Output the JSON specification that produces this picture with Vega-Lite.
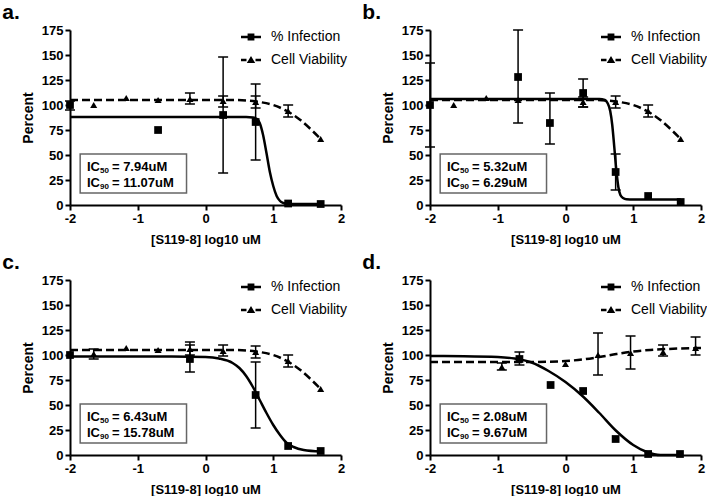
{
  "$schema": "https://vega.github.io/schema/vega-lite/v6.json",
  "background": "white",
  "padding": {"left": 2, "top": 2, "right": 0, "bottom": 0},
  "config": {
    "view": {"stroke": null},
    "font": "Liberation Sans",
    "axis": {"grid": false, "domainColor": "black", "domainWidth": 2, "tickColor": "black", "tickWidth": 2, "tickSize": 5, "labelFont": "Liberation Sans", "labelFontWeight": "bold", "labelFontSize": 13, "labelColor": "black", "labelPadding": 2, "labelOverlap": false, "labelFlush": false, "titleFont": "Liberation Sans", "titleFontWeight": "bold", "titleColor": "black"},
    "axisX": {"titleFontSize": 13, "titlePadding": 8},
    "axisY": {"titleFontSize": 14, "titlePadding": 6},
    "title": {"font": "Liberation Sans", "fontSize": 21, "fontWeight": "bold", "color": "black", "anchor": "start", "offset": 1, "dx": -19},
    "legend": {"labelFont": "Liberation Sans", "labelFontSize": 14, "labelColor": "black"}
  },
  "datasets": {
    "pts": [
      {"p":"a","s":"% Infection","x":-2,"y":100,"lo":95,"hi":104},
      {"p":"a","s":"% Infection","x":-0.7,"y":75},
      {"p":"a","s":"% Infection","x":0.26,"y":90,"lo":32,"hi":148},
      {"p":"a","s":"% Infection","x":0.74,"y":83,"lo":45,"hi":121},
      {"p":"a","s":"% Infection","x":1.22,"y":1.5},
      {"p":"a","s":"% Infection","x":1.7,"y":1},
      {"p":"a","s":"Cell Viability","x":-1.65,"y":100},
      {"p":"a","s":"Cell Viability","x":-1.17,"y":107},
      {"p":"a","s":"Cell Viability","x":-0.7,"y":105},
      {"p":"a","s":"Cell Viability","x":-0.23,"y":106,"lo":101,"hi":112},
      {"p":"a","s":"Cell Viability","x":0.26,"y":104,"lo":98,"hi":109},
      {"p":"a","s":"Cell Viability","x":0.74,"y":103,"lo":97,"hi":109},
      {"p":"a","s":"Cell Viability","x":1.22,"y":94,"lo":88,"hi":100},
      {"p":"a","s":"Cell Viability","x":1.7,"y":66},

      {"p":"b","s":"% Infection","x":-2,"y":100,"lo":58,"hi":142},
      {"p":"b","s":"% Infection","x":-0.7,"y":128,"lo":82,"hi":175},
      {"p":"b","s":"% Infection","x":-0.23,"y":82,"lo":61,"hi":112},
      {"p":"b","s":"% Infection","x":0.26,"y":112,"lo":98,"hi":126},
      {"p":"b","s":"% Infection","x":0.74,"y":33,"lo":15,"hi":51},
      {"p":"b","s":"% Infection","x":1.22,"y":9},
      {"p":"b","s":"% Infection","x":1.7,"y":3},
      {"p":"b","s":"Cell Viability","x":-1.65,"y":100},
      {"p":"b","s":"Cell Viability","x":-1.17,"y":107},
      {"p":"b","s":"Cell Viability","x":-0.7,"y":105},
      {"p":"b","s":"Cell Viability","x":0.26,"y":103,"lo":98,"hi":108},
      {"p":"b","s":"Cell Viability","x":0.74,"y":103,"lo":97,"hi":109},
      {"p":"b","s":"Cell Viability","x":1.22,"y":94,"lo":88,"hi":100},
      {"p":"b","s":"Cell Viability","x":1.7,"y":66},

      {"p":"c","s":"% Infection","x":-2,"y":100},
      {"p":"c","s":"% Infection","x":-0.23,"y":96,"lo":83,"hi":110},
      {"p":"c","s":"% Infection","x":0.74,"y":60,"lo":27,"hi":93},
      {"p":"c","s":"% Infection","x":1.22,"y":9},
      {"p":"c","s":"% Infection","x":1.7,"y":4},
      {"p":"c","s":"Cell Viability","x":-1.65,"y":101,"lo":96,"hi":106},
      {"p":"c","s":"Cell Viability","x":-1.17,"y":107},
      {"p":"c","s":"Cell Viability","x":-0.7,"y":105},
      {"p":"c","s":"Cell Viability","x":-0.23,"y":106,"lo":100,"hi":113},
      {"p":"c","s":"Cell Viability","x":0.26,"y":104,"lo":99,"hi":110},
      {"p":"c","s":"Cell Viability","x":0.74,"y":103,"lo":97,"hi":109},
      {"p":"c","s":"Cell Viability","x":1.22,"y":94,"lo":88,"hi":100},
      {"p":"c","s":"Cell Viability","x":1.7,"y":66},

      {"p":"d","s":"% Infection","x":-0.68,"y":96,"lo":90,"hi":103},
      {"p":"d","s":"% Infection","x":-0.22,"y":70},
      {"p":"d","s":"% Infection","x":0.26,"y":64},
      {"p":"d","s":"% Infection","x":0.74,"y":16},
      {"p":"d","s":"% Infection","x":1.22,"y":1},
      {"p":"d","s":"% Infection","x":1.69,"y":1},
      {"p":"d","s":"Cell Viability","x":-0.94,"y":88,"lo":85,"hi":92},
      {"p":"d","s":"Cell Viability","x":0.0,"y":91},
      {"p":"d","s":"Cell Viability","x":0.48,"y":100,"lo":80,"hi":122},
      {"p":"d","s":"Cell Viability","x":0.96,"y":102,"lo":86,"hi":119},
      {"p":"d","s":"Cell Viability","x":1.44,"y":103,"lo":99,"hi":110},
      {"p":"d","s":"Cell Viability","x":1.92,"y":107,"lo":100,"hi":118}
    ],
    "fit": [
      {"p":"a","s":"% Infection","x":-2,"y":88},{"p":"a","s":"% Infection","x":0.6,"y":88},{"p":"a","s":"% Infection","x":0.7,"y":87.5},{"p":"a","s":"% Infection","x":0.76,"y":86},{"p":"a","s":"% Infection","x":0.8,"y":82},{"p":"a","s":"% Infection","x":0.85,"y":70},{"p":"a","s":"% Infection","x":0.9,"y":52},{"p":"a","s":"% Infection","x":0.95,"y":33},{"p":"a","s":"% Infection","x":1.0,"y":19},{"p":"a","s":"% Infection","x":1.05,"y":9},{"p":"a","s":"% Infection","x":1.1,"y":4},{"p":"a","s":"% Infection","x":1.15,"y":2},{"p":"a","s":"% Infection","x":1.22,"y":1},{"p":"a","s":"% Infection","x":1.7,"y":1},
      {"p":"a","s":"Cell Viability","x":-2,"y":105},{"p":"a","s":"Cell Viability","x":0.4,"y":105},{"p":"a","s":"Cell Viability","x":0.6,"y":104.5},{"p":"a","s":"Cell Viability","x":0.8,"y":103},{"p":"a","s":"Cell Viability","x":1.0,"y":100},{"p":"a","s":"Cell Viability","x":1.2,"y":94},{"p":"a","s":"Cell Viability","x":1.4,"y":85},{"p":"a","s":"Cell Viability","x":1.55,"y":76},{"p":"a","s":"Cell Viability","x":1.7,"y":66},

      {"p":"b","s":"% Infection","x":-2,"y":106},{"p":"b","s":"% Infection","x":0.5,"y":106},{"p":"b","s":"% Infection","x":0.58,"y":105},{"p":"b","s":"% Infection","x":0.62,"y":102},{"p":"b","s":"% Infection","x":0.66,"y":94},{"p":"b","s":"% Infection","x":0.69,"y":80},{"p":"b","s":"% Infection","x":0.72,"y":58},{"p":"b","s":"% Infection","x":0.75,"y":35},{"p":"b","s":"% Infection","x":0.78,"y":18},{"p":"b","s":"% Infection","x":0.81,"y":10},{"p":"b","s":"% Infection","x":0.85,"y":7},{"p":"b","s":"% Infection","x":0.9,"y":5.8},{"p":"b","s":"% Infection","x":1.0,"y":5.5},{"p":"b","s":"% Infection","x":1.7,"y":5.5},
      {"p":"b","s":"Cell Viability","x":-2,"y":105},{"p":"b","s":"Cell Viability","x":0.4,"y":105},{"p":"b","s":"Cell Viability","x":0.6,"y":104.5},{"p":"b","s":"Cell Viability","x":0.8,"y":103},{"p":"b","s":"Cell Viability","x":1.0,"y":100},{"p":"b","s":"Cell Viability","x":1.2,"y":94},{"p":"b","s":"Cell Viability","x":1.4,"y":85},{"p":"b","s":"Cell Viability","x":1.55,"y":76},{"p":"b","s":"Cell Viability","x":1.7,"y":66},

      {"p":"c","s":"% Infection","x":-2,"y":98.5},{"p":"c","s":"% Infection","x":-0.5,"y":98.5},{"p":"c","s":"% Infection","x":0,"y":98},{"p":"c","s":"% Infection","x":0.2,"y":96.5},{"p":"c","s":"% Infection","x":0.4,"y":92},{"p":"c","s":"% Infection","x":0.5,"y":87},{"p":"c","s":"% Infection","x":0.6,"y":79},{"p":"c","s":"% Infection","x":0.7,"y":68},{"p":"c","s":"% Infection","x":0.8,"y":55},{"p":"c","s":"% Infection","x":0.9,"y":42},{"p":"c","s":"% Infection","x":1.0,"y":30},{"p":"c","s":"% Infection","x":1.1,"y":20},{"p":"c","s":"% Infection","x":1.2,"y":12},{"p":"c","s":"% Infection","x":1.3,"y":8},{"p":"c","s":"% Infection","x":1.45,"y":5},{"p":"c","s":"% Infection","x":1.7,"y":3.5},
      {"p":"c","s":"Cell Viability","x":-2,"y":105},{"p":"c","s":"Cell Viability","x":0.4,"y":105},{"p":"c","s":"Cell Viability","x":0.6,"y":104.5},{"p":"c","s":"Cell Viability","x":0.8,"y":103},{"p":"c","s":"Cell Viability","x":1.0,"y":100},{"p":"c","s":"Cell Viability","x":1.2,"y":94},{"p":"c","s":"Cell Viability","x":1.4,"y":85},{"p":"c","s":"Cell Viability","x":1.55,"y":76},{"p":"c","s":"Cell Viability","x":1.7,"y":66},

      {"p":"d","s":"% Infection","x":-2,"y":99},{"p":"d","s":"% Infection","x":-1.5,"y":98.8},{"p":"d","s":"% Infection","x":-1,"y":98},{"p":"d","s":"% Infection","x":-0.75,"y":96.5},{"p":"d","s":"% Infection","x":-0.5,"y":92.5},{"p":"d","s":"% Infection","x":-0.25,"y":84},{"p":"d","s":"% Infection","x":0,"y":73},{"p":"d","s":"% Infection","x":0.25,"y":59},{"p":"d","s":"% Infection","x":0.5,"y":42},{"p":"d","s":"% Infection","x":0.75,"y":24},{"p":"d","s":"% Infection","x":1.0,"y":10},{"p":"d","s":"% Infection","x":1.2,"y":3},{"p":"d","s":"% Infection","x":1.4,"y":0},{"p":"d","s":"% Infection","x":1.7,"y":0},
      {"p":"d","s":"Cell Viability","x":-2,"y":93},{"p":"d","s":"Cell Viability","x":-1,"y":93},{"p":"d","s":"Cell Viability","x":-0.5,"y":93},{"p":"d","s":"Cell Viability","x":0,"y":94},{"p":"d","s":"Cell Viability","x":0.25,"y":95.5},{"p":"d","s":"Cell Viability","x":0.5,"y":98},{"p":"d","s":"Cell Viability","x":0.75,"y":101},{"p":"d","s":"Cell Viability","x":1,"y":103.5},{"p":"d","s":"Cell Viability","x":1.25,"y":105},{"p":"d","s":"Cell Viability","x":1.5,"y":106},{"p":"d","s":"Cell Viability","x":2,"y":107}
    ],
    "ic": [
      {"p":"a","v":"= 7.94uM\n= 11.07uM"},
      {"p":"b","v":"= 5.32uM\n= 6.29uM"},
      {"p":"c","v":"= 6.43uM\n= 15.78uM"},
      {"p":"d","v":"= 2.08uM\n= 9.67uM"}
    ]
  },
  "columns": 2,
  "spacing": {"row": 6, "column": 15},
  "resolve": {"scale": {"shape": "independent"}, "legend": {"shape": "independent"}},
  "concat": [
    {
      "title": {"text": "a."},
      "width": 271, "height": 175,
      "layer": [
        {"data": {"name": "fit"}, "transform": [{"filter": "datum.p === 'a' && datum.s === '% Infection'"}], "mark": {"type": "line", "interpolate": "monotone", "color": "black", "strokeWidth": 2.5},
         "encoding": {"x": {"field": "x", "type": "quantitative", "scale": {"domain": [-2, 2], "nice": false}, "axis": {"tickCount": 8, "labelExpr": "datum.value % 1 === 0 ? ('' + datum.value) : ''", "tickOpacity": {"condition": {"test": "datum.value % 1 === 0", "value": 1}, "value": 0}, "title": "[S119-8] log10 uM"}}, "y": {"field": "y", "type": "quantitative", "scale": {"domain": [0, 175], "nice": false}, "axis": {"tickCount": 35, "labelExpr": "datum.value % 25 === 0 ? datum.label : ''", "tickOpacity": {"condition": {"test": "datum.value % 25 === 0", "value": 1}, "value": 0}, "title": "Percent"}}}},
        {"data": {"name": "fit"}, "transform": [{"filter": "datum.p === 'a' && datum.s === 'Cell Viability'"}], "mark": {"type": "line", "interpolate": "monotone", "color": "black", "strokeWidth": 2.5, "strokeDash": [8, 4]},
         "encoding": {"x": {"field": "x", "type": "quantitative"}, "y": {"field": "y", "type": "quantitative"}}},
        {"data": {"name": "ic"}, "transform": [{"filter": "datum.p === 'a'"}], "mark": {"type": "rect", "fill": "white", "stroke": "#666666", "strokeWidth": 1.5},
         "encoding": {"x": {"datum": -1.85, "type": "quantitative"}, "x2": {"datum": -0.28}, "y": {"datum": 12, "type": "quantitative"}, "y2": {"datum": 51}}},
        {"data": {"name": "ic"}, "transform": [{"filter": "datum.p === 'a'"}], "mark": {"type": "text", "align": "left", "baseline": "middle", "lineHeight": 16, "fontWeight": "bold", "fontSize": 13, "color": "black"},
         "encoding": {"x": {"datum": -1.75, "type": "quantitative"}, "y": {"datum": 38, "type": "quantitative"}, "text": {"value": ["IC", "IC"]}}},
        {"data": {"name": "ic"}, "transform": [{"filter": "datum.p === 'a'"}], "mark": {"type": "text", "align": "left", "baseline": "middle", "lineHeight": 16, "fontWeight": "bold", "fontSize": 8, "color": "black", "dx": 13, "dy": 4},
         "encoding": {"x": {"datum": -1.75, "type": "quantitative"}, "y": {"datum": 38, "type": "quantitative"}, "text": {"value": ["50", "90"]}}},
        {"data": {"name": "ic"}, "transform": [{"filter": "datum.p === 'a'"}], "mark": {"type": "text", "align": "left", "baseline": "middle", "lineBreak": "\n", "lineHeight": 16, "fontWeight": "bold", "fontSize": 13, "color": "black", "dx": 25},
         "encoding": {"x": {"datum": -1.75, "type": "quantitative"}, "y": {"datum": 38, "type": "quantitative"}, "text": {"field": "v"}}},
        {"data": {"name": "pts"}, "transform": [{"filter": "datum.p === 'a' && isValid(datum.lo)"}], "mark": {"type": "rule", "color": "black", "strokeWidth": 1.5},
         "encoding": {"x": {"field": "x", "type": "quantitative"}, "y": {"field": "lo", "type": "quantitative"}, "y2": {"field": "hi"}}},
        {"data": {"name": "pts"}, "transform": [{"filter": "datum.p === 'a' && isValid(datum.lo)"}, {"fold": ["lo", "hi"], "as": ["k", "v"]}], "mark": {"type": "tick", "orient": "horizontal", "color": "black", "thickness": 1.5, "size": 10, "opacity": 1},
         "encoding": {"x": {"field": "x", "type": "quantitative"}, "y": {"field": "v", "type": "quantitative"}}},
        {"data": {"name": "pts"}, "transform": [{"filter": "datum.p === 'a' && datum.s === '% Infection'"}], "mark": {"type": "point", "shape": "square", "filled": true, "color": "black", "opacity": 1, "size": 60},
         "encoding": {"x": {"field": "x", "type": "quantitative"}, "y": {"field": "y", "type": "quantitative"}}},
        {"data": {"name": "pts"}, "transform": [{"filter": "datum.p === 'a' && datum.s === 'Cell Viability'"}], "mark": {"type": "point", "shape": "triangle-up", "filled": true, "color": "black", "opacity": 1, "size": 50},
         "encoding": {"x": {"field": "x", "type": "quantitative"}, "y": {"field": "y", "type": "quantitative"}}},
        {"data": {"name": "pts"}, "transform": [{"filter": "false"}], "mark": {"type": "point", "filled": true, "color": "black", "opacity": 1},
         "encoding": {"x": {"field": "x", "type": "quantitative"}, "y": {"field": "y", "type": "quantitative"},
          "shape": {"field": "s", "type": "nominal", "scale": {"domain": ["% Infection", "Cell Viability"], "range": ["M-1,-0.12H1V0.12H-1Z M-0.34,-0.34H0.34V0.34H-0.34Z", "M-1,-0.12H-0.45V0.12H-1Z M0.45,-0.12H1V0.12H0.45Z M-0.42,0.3L0,-0.4L0.42,0.3Z"]},
           "legend": {"title": null, "orient": "none", "legendX": 171, "legendY": -3, "symbolSize": 400, "labelOffset": 10, "rowPadding": 6, "symbolOpacity": 1, "symbolFillColor": "black", "symbolStrokeWidth": 0}}}}
      ]
    },
    {
      "title": {"text": "b."},
      "width": 271, "height": 175,
      "layer": [
        {"data": {"name": "fit"}, "transform": [{"filter": "datum.p === 'b' && datum.s === 'Cell Viability'"}], "mark": {"type": "line", "interpolate": "monotone", "color": "black", "strokeWidth": 2.5, "strokeDash": [8, 4]},
         "encoding": {"x": {"field": "x", "type": "quantitative", "scale": {"domain": [-2, 2], "nice": false}, "axis": {"tickCount": 8, "labelExpr": "datum.value % 1 === 0 ? ('' + datum.value) : ''", "tickOpacity": {"condition": {"test": "datum.value % 1 === 0", "value": 1}, "value": 0}, "title": "[S119-8] log10 uM"}}, "y": {"field": "y", "type": "quantitative", "scale": {"domain": [0, 175], "nice": false}, "axis": {"tickCount": 35, "labelExpr": "datum.value % 25 === 0 ? datum.label : ''", "tickOpacity": {"condition": {"test": "datum.value % 25 === 0", "value": 1}, "value": 0}, "title": "Percent"}}}},
        {"data": {"name": "fit"}, "transform": [{"filter": "datum.p === 'b' && datum.s === '% Infection'"}], "mark": {"type": "line", "interpolate": "monotone", "color": "black", "strokeWidth": 2.5},
         "encoding": {"x": {"field": "x", "type": "quantitative"}, "y": {"field": "y", "type": "quantitative"}}},
        {"data": {"name": "ic"}, "transform": [{"filter": "datum.p === 'b'"}], "mark": {"type": "rect", "fill": "white", "stroke": "#666666", "strokeWidth": 1.5},
         "encoding": {"x": {"datum": -1.85, "type": "quantitative"}, "x2": {"datum": -0.28}, "y": {"datum": 12, "type": "quantitative"}, "y2": {"datum": 51}}},
        {"data": {"name": "ic"}, "transform": [{"filter": "datum.p === 'b'"}], "mark": {"type": "text", "align": "left", "baseline": "middle", "lineHeight": 16, "fontWeight": "bold", "fontSize": 13, "color": "black"},
         "encoding": {"x": {"datum": -1.75, "type": "quantitative"}, "y": {"datum": 38, "type": "quantitative"}, "text": {"value": ["IC", "IC"]}}},
        {"data": {"name": "ic"}, "transform": [{"filter": "datum.p === 'b'"}], "mark": {"type": "text", "align": "left", "baseline": "middle", "lineHeight": 16, "fontWeight": "bold", "fontSize": 8, "color": "black", "dx": 13, "dy": 4},
         "encoding": {"x": {"datum": -1.75, "type": "quantitative"}, "y": {"datum": 38, "type": "quantitative"}, "text": {"value": ["50", "90"]}}},
        {"data": {"name": "ic"}, "transform": [{"filter": "datum.p === 'b'"}], "mark": {"type": "text", "align": "left", "baseline": "middle", "lineBreak": "\n", "lineHeight": 16, "fontWeight": "bold", "fontSize": 13, "color": "black", "dx": 25},
         "encoding": {"x": {"datum": -1.75, "type": "quantitative"}, "y": {"datum": 38, "type": "quantitative"}, "text": {"field": "v"}}},
        {"data": {"name": "pts"}, "transform": [{"filter": "datum.p === 'b' && isValid(datum.lo)"}], "mark": {"type": "rule", "color": "black", "strokeWidth": 1.5},
         "encoding": {"x": {"field": "x", "type": "quantitative"}, "y": {"field": "lo", "type": "quantitative"}, "y2": {"field": "hi"}}},
        {"data": {"name": "pts"}, "transform": [{"filter": "datum.p === 'b' && isValid(datum.lo)"}, {"fold": ["lo", "hi"], "as": ["k", "v"]}], "mark": {"type": "tick", "orient": "horizontal", "color": "black", "thickness": 1.5, "size": 10, "opacity": 1},
         "encoding": {"x": {"field": "x", "type": "quantitative"}, "y": {"field": "v", "type": "quantitative"}}},
        {"data": {"name": "pts"}, "transform": [{"filter": "datum.p === 'b' && datum.s === '% Infection'"}], "mark": {"type": "point", "shape": "square", "filled": true, "color": "black", "opacity": 1, "size": 60},
         "encoding": {"x": {"field": "x", "type": "quantitative"}, "y": {"field": "y", "type": "quantitative"}}},
        {"data": {"name": "pts"}, "transform": [{"filter": "datum.p === 'b' && datum.s === 'Cell Viability'"}], "mark": {"type": "point", "shape": "triangle-up", "filled": true, "color": "black", "opacity": 1, "size": 50},
         "encoding": {"x": {"field": "x", "type": "quantitative"}, "y": {"field": "y", "type": "quantitative"}}},
        {"data": {"name": "pts"}, "transform": [{"filter": "false"}], "mark": {"type": "point", "filled": true, "color": "black", "opacity": 1},
         "encoding": {"x": {"field": "x", "type": "quantitative"}, "y": {"field": "y", "type": "quantitative"},
          "shape": {"field": "s", "type": "nominal", "scale": {"domain": ["% Infection", "Cell Viability"], "range": ["M-1,-0.12H1V0.12H-1Z M-0.34,-0.34H0.34V0.34H-0.34Z", "M-1,-0.12H-0.45V0.12H-1Z M0.45,-0.12H1V0.12H0.45Z M-0.42,0.3L0,-0.4L0.42,0.3Z"]},
           "legend": {"title": null, "orient": "none", "legendX": 171, "legendY": -3, "symbolSize": 400, "labelOffset": 10, "rowPadding": 6, "symbolOpacity": 1, "symbolFillColor": "black", "symbolStrokeWidth": 0}}}}
      ]
    },
    {
      "title": {"text": "c."},
      "width": 271, "height": 175,
      "layer": [
        {"data": {"name": "fit"}, "transform": [{"filter": "datum.p === 'c' && datum.s === 'Cell Viability'"}], "mark": {"type": "line", "interpolate": "monotone", "color": "black", "strokeWidth": 2.5, "strokeDash": [8, 4]},
         "encoding": {"x": {"field": "x", "type": "quantitative", "scale": {"domain": [-2, 2], "nice": false}, "axis": {"tickCount": 8, "labelExpr": "datum.value % 1 === 0 ? ('' + datum.value) : ''", "tickOpacity": {"condition": {"test": "datum.value % 1 === 0", "value": 1}, "value": 0}, "title": "[S119-8] log10 uM"}}, "y": {"field": "y", "type": "quantitative", "scale": {"domain": [0, 175], "nice": false}, "axis": {"tickCount": 35, "labelExpr": "datum.value % 25 === 0 ? datum.label : ''", "tickOpacity": {"condition": {"test": "datum.value % 25 === 0", "value": 1}, "value": 0}, "title": "Percent"}}}},
        {"data": {"name": "fit"}, "transform": [{"filter": "datum.p === 'c' && datum.s === '% Infection'"}], "mark": {"type": "line", "interpolate": "monotone", "color": "black", "strokeWidth": 2.5},
         "encoding": {"x": {"field": "x", "type": "quantitative"}, "y": {"field": "y", "type": "quantitative"}}},
        {"data": {"name": "ic"}, "transform": [{"filter": "datum.p === 'c'"}], "mark": {"type": "rect", "fill": "white", "stroke": "#666666", "strokeWidth": 1.5},
         "encoding": {"x": {"datum": -1.85, "type": "quantitative"}, "x2": {"datum": -0.28}, "y": {"datum": 12, "type": "quantitative"}, "y2": {"datum": 51}}},
        {"data": {"name": "ic"}, "transform": [{"filter": "datum.p === 'c'"}], "mark": {"type": "text", "align": "left", "baseline": "middle", "lineHeight": 16, "fontWeight": "bold", "fontSize": 13, "color": "black"},
         "encoding": {"x": {"datum": -1.75, "type": "quantitative"}, "y": {"datum": 38, "type": "quantitative"}, "text": {"value": ["IC", "IC"]}}},
        {"data": {"name": "ic"}, "transform": [{"filter": "datum.p === 'c'"}], "mark": {"type": "text", "align": "left", "baseline": "middle", "lineHeight": 16, "fontWeight": "bold", "fontSize": 8, "color": "black", "dx": 13, "dy": 4},
         "encoding": {"x": {"datum": -1.75, "type": "quantitative"}, "y": {"datum": 38, "type": "quantitative"}, "text": {"value": ["50", "90"]}}},
        {"data": {"name": "ic"}, "transform": [{"filter": "datum.p === 'c'"}], "mark": {"type": "text", "align": "left", "baseline": "middle", "lineBreak": "\n", "lineHeight": 16, "fontWeight": "bold", "fontSize": 13, "color": "black", "dx": 25},
         "encoding": {"x": {"datum": -1.75, "type": "quantitative"}, "y": {"datum": 38, "type": "quantitative"}, "text": {"field": "v"}}},
        {"data": {"name": "pts"}, "transform": [{"filter": "datum.p === 'c' && isValid(datum.lo)"}], "mark": {"type": "rule", "color": "black", "strokeWidth": 1.5},
         "encoding": {"x": {"field": "x", "type": "quantitative"}, "y": {"field": "lo", "type": "quantitative"}, "y2": {"field": "hi"}}},
        {"data": {"name": "pts"}, "transform": [{"filter": "datum.p === 'c' && isValid(datum.lo)"}, {"fold": ["lo", "hi"], "as": ["k", "v"]}], "mark": {"type": "tick", "orient": "horizontal", "color": "black", "thickness": 1.5, "size": 10, "opacity": 1},
         "encoding": {"x": {"field": "x", "type": "quantitative"}, "y": {"field": "v", "type": "quantitative"}}},
        {"data": {"name": "pts"}, "transform": [{"filter": "datum.p === 'c' && datum.s === '% Infection'"}], "mark": {"type": "point", "shape": "square", "filled": true, "color": "black", "opacity": 1, "size": 60},
         "encoding": {"x": {"field": "x", "type": "quantitative"}, "y": {"field": "y", "type": "quantitative"}}},
        {"data": {"name": "pts"}, "transform": [{"filter": "datum.p === 'c' && datum.s === 'Cell Viability'"}], "mark": {"type": "point", "shape": "triangle-up", "filled": true, "color": "black", "opacity": 1, "size": 50},
         "encoding": {"x": {"field": "x", "type": "quantitative"}, "y": {"field": "y", "type": "quantitative"}}},
        {"data": {"name": "pts"}, "transform": [{"filter": "false"}], "mark": {"type": "point", "filled": true, "color": "black", "opacity": 1},
         "encoding": {"x": {"field": "x", "type": "quantitative"}, "y": {"field": "y", "type": "quantitative"},
          "shape": {"field": "s", "type": "nominal", "scale": {"domain": ["% Infection", "Cell Viability"], "range": ["M-1,-0.12H1V0.12H-1Z M-0.34,-0.34H0.34V0.34H-0.34Z", "M-1,-0.12H-0.45V0.12H-1Z M0.45,-0.12H1V0.12H0.45Z M-0.42,0.3L0,-0.4L0.42,0.3Z"]},
           "legend": {"title": null, "orient": "none", "legendX": 171, "legendY": -3, "symbolSize": 400, "labelOffset": 10, "rowPadding": 6, "symbolOpacity": 1, "symbolFillColor": "black", "symbolStrokeWidth": 0}}}}
      ]
    },
    {
      "title": {"text": "d."},
      "width": 271, "height": 175,
      "layer": [
        {"data": {"name": "fit"}, "transform": [{"filter": "datum.p === 'd' && datum.s === 'Cell Viability'"}], "mark": {"type": "line", "interpolate": "monotone", "color": "black", "strokeWidth": 2.5, "strokeDash": [8, 4]},
         "encoding": {"x": {"field": "x", "type": "quantitative", "scale": {"domain": [-2, 2], "nice": false}, "axis": {"tickCount": 8, "labelExpr": "datum.value % 1 === 0 ? ('' + datum.value) : ''", "tickOpacity": {"condition": {"test": "datum.value % 1 === 0", "value": 1}, "value": 0}, "title": "[S119-8] log10 uM"}}, "y": {"field": "y", "type": "quantitative", "scale": {"domain": [0, 175], "nice": false}, "axis": {"tickCount": 35, "labelExpr": "datum.value % 25 === 0 ? datum.label : ''", "tickOpacity": {"condition": {"test": "datum.value % 25 === 0", "value": 1}, "value": 0}, "title": "Percent"}}}},
        {"data": {"name": "fit"}, "transform": [{"filter": "datum.p === 'd' && datum.s === '% Infection'"}], "mark": {"type": "line", "interpolate": "monotone", "color": "black", "strokeWidth": 2.5},
         "encoding": {"x": {"field": "x", "type": "quantitative"}, "y": {"field": "y", "type": "quantitative"}}},
        {"data": {"name": "ic"}, "transform": [{"filter": "datum.p === 'd'"}], "mark": {"type": "rect", "fill": "white", "stroke": "#666666", "strokeWidth": 1.5},
         "encoding": {"x": {"datum": -1.85, "type": "quantitative"}, "x2": {"datum": -0.28}, "y": {"datum": 12, "type": "quantitative"}, "y2": {"datum": 51}}},
        {"data": {"name": "ic"}, "transform": [{"filter": "datum.p === 'd'"}], "mark": {"type": "text", "align": "left", "baseline": "middle", "lineHeight": 16, "fontWeight": "bold", "fontSize": 13, "color": "black"},
         "encoding": {"x": {"datum": -1.75, "type": "quantitative"}, "y": {"datum": 38, "type": "quantitative"}, "text": {"value": ["IC", "IC"]}}},
        {"data": {"name": "ic"}, "transform": [{"filter": "datum.p === 'd'"}], "mark": {"type": "text", "align": "left", "baseline": "middle", "lineHeight": 16, "fontWeight": "bold", "fontSize": 8, "color": "black", "dx": 13, "dy": 4},
         "encoding": {"x": {"datum": -1.75, "type": "quantitative"}, "y": {"datum": 38, "type": "quantitative"}, "text": {"value": ["50", "90"]}}},
        {"data": {"name": "ic"}, "transform": [{"filter": "datum.p === 'd'"}], "mark": {"type": "text", "align": "left", "baseline": "middle", "lineBreak": "\n", "lineHeight": 16, "fontWeight": "bold", "fontSize": 13, "color": "black", "dx": 25},
         "encoding": {"x": {"datum": -1.75, "type": "quantitative"}, "y": {"datum": 38, "type": "quantitative"}, "text": {"field": "v"}}},
        {"data": {"name": "pts"}, "transform": [{"filter": "datum.p === 'd' && isValid(datum.lo)"}], "mark": {"type": "rule", "color": "black", "strokeWidth": 1.5},
         "encoding": {"x": {"field": "x", "type": "quantitative"}, "y": {"field": "lo", "type": "quantitative"}, "y2": {"field": "hi"}}},
        {"data": {"name": "pts"}, "transform": [{"filter": "datum.p === 'd' && isValid(datum.lo)"}, {"fold": ["lo", "hi"], "as": ["k", "v"]}], "mark": {"type": "tick", "orient": "horizontal", "color": "black", "thickness": 1.5, "size": 10, "opacity": 1},
         "encoding": {"x": {"field": "x", "type": "quantitative"}, "y": {"field": "v", "type": "quantitative"}}},
        {"data": {"name": "pts"}, "transform": [{"filter": "datum.p === 'd' && datum.s === '% Infection'"}], "mark": {"type": "point", "shape": "square", "filled": true, "color": "black", "opacity": 1, "size": 60},
         "encoding": {"x": {"field": "x", "type": "quantitative"}, "y": {"field": "y", "type": "quantitative"}}},
        {"data": {"name": "pts"}, "transform": [{"filter": "datum.p === 'd' && datum.s === 'Cell Viability'"}], "mark": {"type": "point", "shape": "triangle-up", "filled": true, "color": "black", "opacity": 1, "size": 50},
         "encoding": {"x": {"field": "x", "type": "quantitative"}, "y": {"field": "y", "type": "quantitative"}}},
        {"data": {"name": "pts"}, "transform": [{"filter": "false"}], "mark": {"type": "point", "filled": true, "color": "black", "opacity": 1},
         "encoding": {"x": {"field": "x", "type": "quantitative"}, "y": {"field": "y", "type": "quantitative"},
          "shape": {"field": "s", "type": "nominal", "scale": {"domain": ["% Infection", "Cell Viability"], "range": ["M-1,-0.12H1V0.12H-1Z M-0.34,-0.34H0.34V0.34H-0.34Z", "M-1,-0.12H-0.45V0.12H-1Z M0.45,-0.12H1V0.12H0.45Z M-0.42,0.3L0,-0.4L0.42,0.3Z"]},
           "legend": {"title": null, "orient": "none", "legendX": 171, "legendY": -3, "symbolSize": 400, "labelOffset": 10, "rowPadding": 6, "symbolOpacity": 1, "symbolFillColor": "black", "symbolStrokeWidth": 0}}}}
      ]
    }
  ]
}
